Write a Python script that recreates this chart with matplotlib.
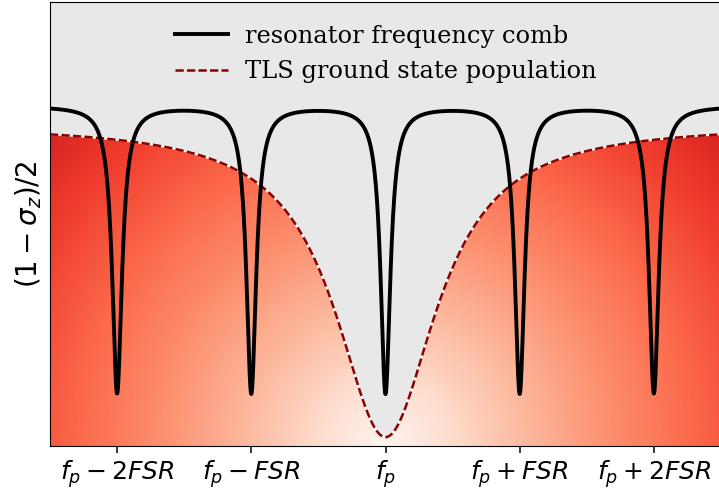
import numpy as np
import matplotlib
matplotlib.use("Agg")
import matplotlib.pyplot as plt
from matplotlib.patches import PathPatch
from matplotlib.path import Path

# comb resonance positions in units of FSR, and their tick labels
resonances = [-2, -1, 0, 1, 2]
tick_labels = [r"$f_p-2FSR$", r"$f_p-FSR$", r"$f_p$", r"$f_p+FSR$", r"$f_p+2FSR$"]

comb_top = 0.766      # level far from the dips
comb_depth = 0.646    # dip depth
comb_width = 0.044    # half width of each dip (FSR)
tls_top = 0.725       # population far from f_p
tls_bottom = 0.02     # population at f_p
tls_width = 0.46      # half width of the TLS dip (FSR)

x = np.linspace(-2.5, 2.5, 4001)


def lorentz(x, x0, w):
    return 1.0 / (1.0 + ((x - x0) / w) ** 2)


comb = comb_top - comb_depth * sum(lorentz(x, k, comb_width) for k in resonances)
tls = tls_top - (tls_top - tls_bottom) * lorentz(x, 0.0, tls_width)

fig = plt.figure(figsize=(7.19, 4.92), dpi=100)
ax = fig.add_axes([50 / 719, 46 / 492, 671 / 719, 444 / 492])
ax.set_facecolor("#e8e8e8")
ax.set_xlim(-2.5, 2.5)
ax.set_ylim(0, 1)

# red gradient under the TLS curve, radial from (f_p, 0) in display space
gx, gy = np.meshgrid(np.linspace(-2.5, 2.5, 600), np.linspace(0, 1, 400))
r = np.sqrt((gx * 134) ** 2 + (gy * 444) ** 2)
val = 0.72 * (r / 470.0) ** 0.85
img = ax.imshow(val, extent=(-2.5, 2.5, 0, 1), origin="lower", cmap="Reds",
                vmin=0, vmax=1, aspect="auto", zorder=1, interpolation="bilinear")
verts = np.vstack([np.column_stack([x, tls]), [[2.5, 0], [-2.5, 0], [x[0], tls[0]]]])
codes = [Path.MOVETO] + [Path.LINETO] * (len(verts) - 2) + [Path.CLOSEPOLY]
clip = PathPatch(Path(verts, codes), transform=ax.transData,
                 facecolor="none", edgecolor="none")
ax.add_patch(clip)
img.set_clip_path(clip)

ax.plot(x, comb, color="black", lw=2.8, zorder=3, label="resonator frequency comb")
ax.plot(x, tls, color="white", lw=1.4, zorder=2)
ax.plot(x, tls, color="#8b0000", lw=1.8, ls="--", dashes=(3.3, 1.3), zorder=2,
        label="TLS ground state population")

ax.set_xticks(resonances)
ax.set_xticklabels(tick_labels, fontsize=18)
ax.tick_params(axis="x", length=5, width=1.1)
ax.set_yticks([])
ax.set_ylabel(r"$(1-\sigma_z)/2$", fontsize=20)

ax.legend(loc="upper center", frameon=False, handlelength=2.2, handletextpad=0.7,
          prop={"family": "DejaVu Serif", "size": 17.4}, labelspacing=0.5,
          borderaxespad=0.55)

fig.savefig("out.png", dpi=100)
